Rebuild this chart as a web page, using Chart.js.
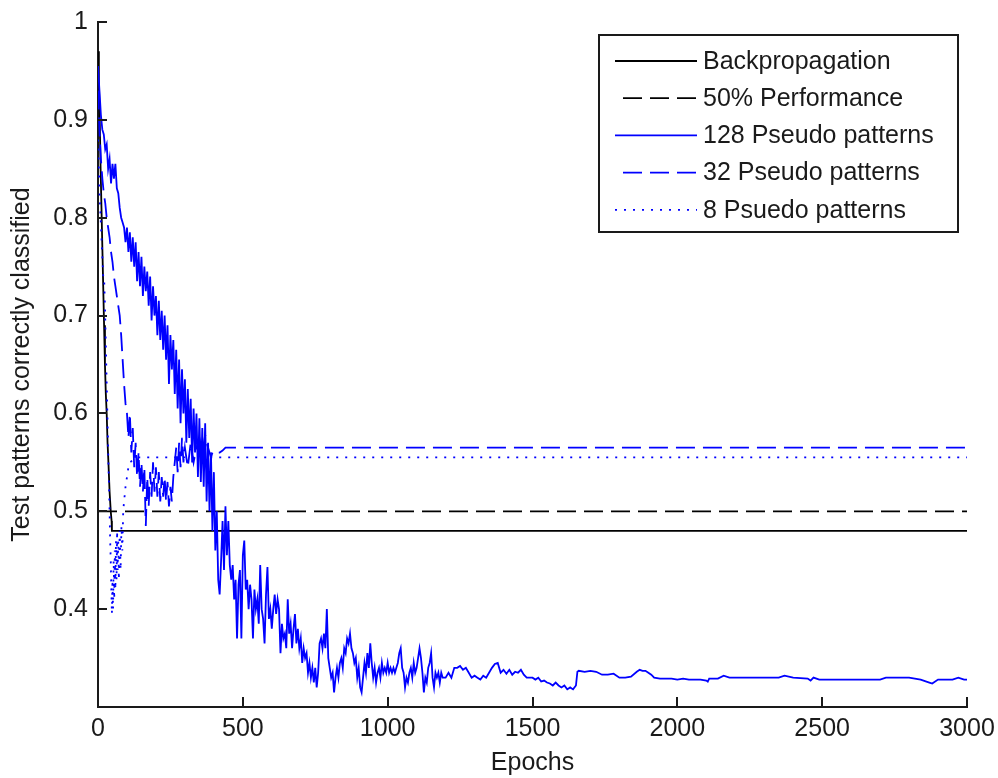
<!DOCTYPE html>
<html>
<head>
<meta charset="utf-8">
<title>Test patterns correctly classified</title>
<script src="https://cdn.jsdelivr.net/npm/chart.js@4.4.1/dist/chart.umd.min.js"></script>
<style>
  html, body { margin: 0; padding: 0; background: #fff; }
  canvas { display: block; }
</style>
</head>
<body>
<canvas id="epochChart" width="998" height="778"></canvas>
<script>
// Axis ticks
const xTicks = [0, 500, 1000, 1500, 2000, 2500, 3000];
const yTicks = [0.4, 0.5, 0.6, 0.7, 0.8, 0.9, 1];

// Backpropagation (plain network)
const backpropEpochs = [0, 3, 6, 9, 12, 15, 18, 21, 24, 27, 30, 33, 36, 40, 44, 47, 48, 3000];
const backpropAcc = [0.97, 0.94, 0.90, 0.85, 0.81, 0.77, 0.73, 0.69, 0.65, 0.62, 0.60, 0.57, 0.55, 0.52, 0.50, 0.49, 0.48, 0.48];

// 50% reference level
const halfEpochs = [0, 3000];
const halfAcc = [0.5, 0.5];

// 128 pseudo patterns
const p128Epochs = [
  0, 5, 10, 15, 20, 25, 30, 35, 40, 45, 50, 55, 60, 65, 70, 75, 80, 85, 90, 95,
  100, 105, 110, 115, 120, 125, 130, 135, 140, 145, 150, 155, 160, 165, 170, 175, 180, 185, 190, 195,
  200, 205, 210, 215, 220, 225, 230, 235, 240, 245, 250, 255, 260, 265, 270, 275, 280, 285, 290, 295,
  300, 305, 310, 315, 320, 325, 330, 335, 340, 345, 350, 355, 360, 365, 370, 375, 380, 385, 390, 395,
  400, 405, 410, 415, 420, 425, 430, 435, 440, 445, 450, 455, 460, 465, 470, 475, 480, 485, 490, 495,
  500, 505, 510, 515, 520, 525, 530, 535, 540, 545, 550, 555, 560, 565, 570, 575, 580, 585, 590, 595,
  600, 605, 610, 615, 620, 625, 630, 635, 640, 645, 650, 655, 660, 665, 670, 675, 680, 685, 690, 695,
  700, 705, 710, 715, 720, 725, 730, 735, 740, 745, 750, 755, 760, 765, 770, 775, 780, 785, 790, 795,
  800, 805, 810, 815, 820, 825, 830, 835, 840, 845, 850, 855, 860, 865, 870, 875, 880, 885, 890, 895,
  900, 905, 910, 915, 920, 925, 930, 935, 940, 945, 950, 955, 960, 965, 970, 975, 980, 985, 990, 995,
  1000, 1005, 1010, 1015, 1020, 1025, 1030, 1035, 1040, 1045, 1050, 1055, 1060, 1065, 1070, 1075, 1080, 1085, 1090, 1095,
  1100, 1105, 1110, 1115, 1120, 1125, 1130, 1135, 1140, 1145, 1150, 1155, 1160, 1165, 1170, 1175, 1180, 1185, 1190,
  1200, 1210, 1220, 1230, 1240, 1250, 1260, 1270, 1280, 1290, 1300, 1310, 1320, 1330, 1340, 1350, 1360, 1370, 1380, 1390,
  1400, 1410, 1420, 1430, 1440, 1450, 1460, 1470, 1480, 1490, 1500, 1510, 1520, 1530, 1540, 1550, 1560, 1570, 1580, 1590,
  1600, 1610, 1620, 1630, 1640, 1650, 1655, 1660, 1680, 1700, 1720, 1740, 1760, 1780, 1800, 1820, 1840, 1860, 1870, 1880,
  1890, 1900, 1910, 1920, 1940, 1960, 1980, 2000, 2020, 2040, 2060, 2080, 2100, 2105, 2110, 2140, 2160, 2180, 2200, 2250,
  2300, 2350, 2370, 2400, 2450, 2460, 2470, 2490, 2550, 2600, 2650, 2700, 2720, 2760, 2800, 2840, 2870, 2880, 2900, 2950,
  2970, 2990, 3000
];
const p128Acc = [
  0.955, 0.93, 0.905, 0.89, 0.885, 0.87, 0.875, 0.85, 0.86, 0.835, 0.855, 0.84, 0.855, 0.83, 0.825, 0.81, 0.80, 0.795, 0.79, 0.775,
  0.79, 0.765, 0.785, 0.755, 0.78, 0.75, 0.775, 0.735, 0.765, 0.73, 0.76, 0.72, 0.75, 0.725, 0.745, 0.71, 0.74, 0.695, 0.73, 0.70,
  0.72, 0.68, 0.715, 0.675, 0.705, 0.665, 0.70, 0.655, 0.69, 0.63, 0.68, 0.645, 0.675, 0.62, 0.665, 0.605, 0.655, 0.59, 0.645, 0.60,
  0.635, 0.57, 0.625, 0.575, 0.615, 0.55, 0.605, 0.56, 0.60, 0.535, 0.595, 0.53, 0.585, 0.525, 0.59, 0.51, 0.57, 0.50, 0.56, 0.48,
  0.54, 0.46, 0.50, 0.43, 0.415, 0.45, 0.49, 0.44, 0.505, 0.455, 0.49, 0.445, 0.43, 0.445, 0.41, 0.43, 0.37, 0.425, 0.44, 0.37,
  0.455, 0.47, 0.42, 0.43, 0.40, 0.425, 0.41, 0.37, 0.42, 0.40, 0.41, 0.385, 0.445, 0.40, 0.39, 0.365, 0.415, 0.443, 0.39, 0.40,
  0.38, 0.40, 0.415, 0.395, 0.41, 0.40, 0.355, 0.385, 0.37, 0.375, 0.36, 0.41, 0.375, 0.385, 0.36, 0.38, 0.395, 0.365, 0.38, 0.36,
  0.37, 0.345, 0.36, 0.35, 0.355, 0.335, 0.345, 0.33, 0.34, 0.325, 0.34, 0.32, 0.335, 0.365, 0.37, 0.36, 0.375, 0.36, 0.40, 0.35,
  0.34, 0.33, 0.335, 0.315, 0.33, 0.34, 0.33, 0.345, 0.35, 0.34, 0.36, 0.355, 0.37, 0.365, 0.375, 0.36, 0.355, 0.345, 0.35, 0.33,
  0.34, 0.32, 0.315, 0.33, 0.345, 0.335, 0.355, 0.34, 0.365, 0.345, 0.33, 0.34, 0.325, 0.335, 0.34, 0.33, 0.345, 0.335, 0.34, 0.335,
  0.345, 0.335, 0.34, 0.335, 0.34, 0.335, 0.34, 0.345, 0.355, 0.36, 0.34, 0.335, 0.32, 0.33, 0.325, 0.335, 0.34, 0.33, 0.345, 0.335,
  0.34, 0.35, 0.36, 0.35, 0.335, 0.315, 0.33, 0.325, 0.34, 0.345, 0.355, 0.33, 0.32, 0.335, 0.33, 0.335, 0.325, 0.335, 0.33,
  0.33, 0.335, 0.33, 0.34, 0.34, 0.342, 0.338, 0.34, 0.335, 0.33, 0.332, 0.33, 0.328, 0.332, 0.33, 0.335, 0.34, 0.344, 0.345, 0.335,
  0.338, 0.334, 0.338, 0.333, 0.336, 0.335, 0.338, 0.333, 0.33, 0.33, 0.33, 0.328, 0.33, 0.326, 0.327, 0.325, 0.324, 0.322, 0.325, 0.322,
  0.32, 0.322, 0.318, 0.32, 0.318, 0.322, 0.336, 0.337, 0.336, 0.337, 0.336, 0.333, 0.333, 0.334, 0.33, 0.33, 0.331, 0.336, 0.338, 0.337,
  0.337, 0.335, 0.333, 0.33, 0.329, 0.329, 0.329, 0.328, 0.329, 0.328, 0.328, 0.328, 0.327, 0.326, 0.329, 0.329, 0.332, 0.33, 0.33, 0.33,
  0.33, 0.33, 0.332, 0.33, 0.329, 0.327, 0.33, 0.328, 0.328, 0.328, 0.328, 0.328, 0.33, 0.33, 0.33, 0.328, 0.325, 0.324, 0.328, 0.328,
  0.33, 0.328, 0.328
];

// 32 pseudo patterns
const p32Epochs = [
  0, 5, 10, 15, 20, 25, 30, 35, 40, 45, 50, 55, 60, 65, 70, 75, 80, 85, 90, 95,
  100, 105, 110, 115, 120, 125, 130, 135, 140, 145, 150, 155, 160, 165, 170, 175, 180, 185, 190, 195,
  200, 205, 210, 215, 220, 225, 230, 235, 240, 245, 250, 255, 260, 265, 270, 275, 280, 285, 290, 295,
  300, 310, 320, 330, 340, 350, 360, 370, 375, 380, 385, 390, 395, 400, 410, 420, 430, 440, 3000
];
const p32Acc = [
  0.93, 0.89, 0.86, 0.84, 0.825, 0.815, 0.80, 0.79, 0.78, 0.765, 0.755, 0.74, 0.73, 0.72, 0.71, 0.70, 0.68, 0.655, 0.63, 0.61,
  0.60, 0.575, 0.60, 0.56, 0.585, 0.545, 0.57, 0.535, 0.56, 0.525, 0.55, 0.52, 0.545, 0.485, 0.535, 0.505, 0.54, 0.515, 0.55, 0.52,
  0.545, 0.515, 0.54, 0.51, 0.535, 0.515, 0.535, 0.51, 0.53, 0.505, 0.525, 0.51, 0.535, 0.55, 0.565, 0.54, 0.57, 0.545, 0.575, 0.55,
  0.565, 0.545, 0.57, 0.55, 0.565, 0.575, 0.56, 0.578, 0.57, 0.565, 0.56, 0.555, 0.56, 0.558, 0.56, 0.56, 0.562, 0.565, 0.565
];

// 8 pseudo patterns
const p8Epochs = [
  0, 3, 6, 9, 12, 15, 18, 21, 24, 27, 30, 33, 36, 39, 40, 42, 44, 46, 48, 50,
  52, 54, 56, 58, 60, 62, 64, 66, 68, 70, 72, 75, 78, 81, 84, 87, 90, 95, 100, 105,
  110, 120, 140, 3000
];
const p8Acc = [
  0.88, 0.85, 0.82, 0.80, 0.78, 0.76, 0.74, 0.74, 0.71, 0.67, 0.63, 0.59, 0.55, 0.515, 0.50, 0.47, 0.45, 0.42, 0.395, 0.43,
  0.40, 0.45, 0.41, 0.46, 0.42, 0.47, 0.43, 0.48, 0.44, 0.47, 0.43, 0.48, 0.44, 0.485, 0.46, 0.50, 0.51, 0.525, 0.535, 0.545,
  0.55, 0.552, 0.555, 0.555
];

const BLUE = '#0000ff';
const INK = '#1a1a1a';
const FONT = "'Liberation Sans', Arial, sans-serif";

function toPoints(xs, ys) {
  return xs.map((x, i) => ({ x: x, y: ys[i] }));
}

const series = [
  { label: 'Backpropagation', xs: backpropEpochs, ys: backpropAcc, color: '#000000', dash: [] },
  { label: '50% Performance', xs: halfEpochs, ys: halfAcc, color: '#000000', dash: [19, 8] },
  { label: '128 Pseudo patterns', xs: p128Epochs, ys: p128Acc, color: BLUE, dash: [] },
  { label: '32 Pseudo patterns', xs: p32Epochs, ys: p32Acc, color: BLUE, dash: [19, 8] },
  { label: '8 Psuedo patterns', xs: p8Epochs, ys: p8Acc, color: BLUE, dash: [2, 7] }
];

// inward tick marks, as on the original axes
const inwardTicks = {
  id: 'inwardTicks',
  afterDatasetsDraw(chart) {
    const { ctx, chartArea, scales } = chart;
    ctx.save();
    ctx.strokeStyle = INK;
    ctx.lineWidth = 2;
    ctx.beginPath();
    yTicks.forEach(v => {
      const y = Math.round(scales.y.getPixelForValue(v));
      ctx.moveTo(chartArea.left, y);
      ctx.lineTo(chartArea.left + 9, y);
    });
    xTicks.forEach(v => {
      const x = Math.round(scales.x.getPixelForValue(v));
      ctx.moveTo(x, chartArea.bottom);
      ctx.lineTo(x, chartArea.bottom - 10);
    });
    ctx.stroke();
    ctx.restore();
  }
};

// boxed legend in the upper right corner
const boxLegend = {
  id: 'boxLegend',
  afterDraw(chart) {
    const ctx = chart.ctx;
    const box = { left: 599, top: 35, right: 958, bottom: 232 };
    ctx.save();
    ctx.fillStyle = '#fff';
    ctx.fillRect(box.left, box.top, box.right - box.left, box.bottom - box.top);
    ctx.strokeStyle = INK;
    ctx.lineWidth = 2;
    ctx.strokeRect(box.left, box.top, box.right - box.left, box.bottom - box.top);
    ctx.font = '25px ' + FONT;
    ctx.textBaseline = 'middle';
    ctx.textAlign = 'left';
    series.forEach((s, i) => {
      const y = 61 + i * 37.2;
      ctx.beginPath();
      ctx.strokeStyle = s.color;
      ctx.lineWidth = 1.8;
      ctx.setLineDash(s.dash);
      if (s.dash.length && s.dash[0] > 5) {
        ctx.moveTo(623, y);
      } else {
        ctx.moveTo(615, y);
      }
      ctx.lineTo(697, y);
      ctx.stroke();
      ctx.setLineDash([]);
      ctx.fillStyle = INK;
      ctx.fillText(s.label, 703, y + 1);
    });
    ctx.restore();
  }
};

function noScalePadding(scale) {
  scale.paddingLeft = 0;
  scale.paddingRight = 0;
  scale.paddingTop = 0;
  scale.paddingBottom = 0;
}

new Chart(document.getElementById('epochChart'), {
  type: 'line',
  data: {
    datasets: series.map((s, i) => ({
      label: s.label,
      data: toPoints(s.xs, s.ys),
      borderColor: s.color,
      borderWidth: 1.8,
      borderDash: s.dash,
      pointRadius: 0,
      tension: 0,
      fill: false,
      order: series.length - i
    }))
  },
  options: {
    responsive: false,
    animation: false,
    events: [],
    layout: { padding: { top: 22, right: 31, left: 0, bottom: 0 } },
    plugins: {
      legend: { display: false },
      tooltip: { enabled: false }
    },
    scales: {
      x: {
        type: 'linear',
        min: 0,
        max: 3000,
        afterBuildTicks(scale) {
          scale.ticks = xTicks.map(v => ({ value: v }));
        },
        afterFit(scale) {
          scale.height = 71;
          noScalePadding(scale);
        },
        grid: { display: false, drawTicks: false },
        border: { display: true, color: INK, width: 2 },
        ticks: {
          color: INK,
          font: { family: FONT, size: 25 },
          padding: 7,
          maxRotation: 0,
          callback: v => String(v)
        },
        title: {
          display: true,
          text: 'Epochs',
          color: INK,
          font: { family: FONT, size: 25 },
          padding: { top: 0, bottom: 0 }
        }
      },
      y: {
        type: 'linear',
        min: 0.3,
        max: 1,
        afterBuildTicks(scale) {
          scale.ticks = yTicks.map(v => ({ value: v }));
        },
        afterFit(scale) {
          scale.width = 98;
          noScalePadding(scale);
        },
        grid: { display: false, drawTicks: false },
        border: { display: true, color: INK, width: 2 },
        ticks: {
          color: INK,
          font: { family: FONT, size: 25 },
          padding: 10,
          callback: v => String(+v.toFixed(1))
        },
        title: {
          display: true,
          text: 'Test patterns correctly classified',
          color: INK,
          font: { family: FONT, size: 25 },
          padding: { top: 7, bottom: 0 }
        }
      }
    }
  },
  plugins: [inwardTicks, boxLegend]
});
</script>
</body>
</html>
